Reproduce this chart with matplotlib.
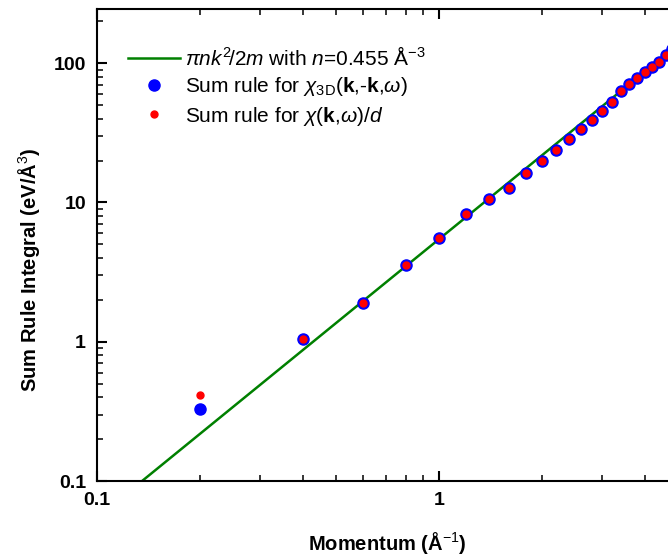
import matplotlib
matplotlib.use("Agg")
import matplotlib.pyplot as plt
from matplotlib.ticker import LogLocator, FixedLocator, FixedFormatter, NullFormatter

# values
momentum = [0.2, 0.4, 0.6, 0.8, 1.0, 1.2, 1.4, 1.6, 1.8, 2.0, 2.2, 2.4,
            2.6, 2.8, 3.0, 3.2, 3.4, 3.6, 3.8, 4.0, 4.2, 4.4, 4.6, 4.8]
sum_rule_3d = [0.33, 1.05, 1.91, 3.53, 5.55, 8.33, 10.6, 12.7, 16.4, 19.9, 23.7, 28.5,
               33.7, 39.3, 45.2, 52.7, 62.9, 71.0, 78.4, 86.1, 93.5, 102, 114, 126]
sum_rule_2d = [0.415, 1.05, 1.91, 3.53, 5.55, 8.33, 10.6, 12.7, 16.4, 19.9, 23.7, 28.5,
               33.7, 39.3, 45.2, 52.7, 62.9, 71.0, 78.4, 86.1, 93.5, 102, 114, 126]
line_k = [0.1, 5.0]
line_y = [0.0545, 136.2]

y_ticks = [0.1, 1, 10, 100]
y_ticklabels = ["0.1", "1", "10", "100"]
x_ticks = [0.1, 1]
x_ticklabels = ["0.1", "1"]

plt.rcParams['font.family'] = ['Liberation Sans', 'DejaVu Sans']
plt.rcParams['mathtext.fontset'] = 'custom'
plt.rcParams['mathtext.rm'] = 'Liberation Sans'
plt.rcParams['mathtext.it'] = 'Liberation Sans:italic'
plt.rcParams['mathtext.bf'] = 'Liberation Sans:bold'

fig = plt.figure(figsize=(6.68, 5.59), dpi=100)
# the right part of the original axes is cut off by the image edge
ax = fig.add_axes([97 / 668, 78 / 559, 581 / 668, 472 / 559])

ax.plot(line_k, line_y, color='green', lw=1.8,
        label=r"$\pi nk^2\!/2m$ with $n$=$\mathit{0.455}$ Å$^{-3}$")
ax.plot(momentum, sum_rule_3d, 'o', color='blue', ms=8, mec='blue', ls='none',
        label=r"Sum rule for $\chi_{\mathrm{3D}}$($\mathbf{k}$,-$\mathbf{k}$,$\omega$)")
ax.plot(momentum, sum_rule_2d, 'o', color='red', ms=5, mec='red', ls='none',
        label=r"Sum rule for $\chi$($\mathbf{k}$,$\omega$)/$d$")

ax.set_xscale('log')
ax.set_yscale('log')
ax.set_xlim(0.1, 5)
ax.set_ylim(0.1, 245)

ax.xaxis.set_major_locator(FixedLocator(x_ticks))
ax.xaxis.set_major_formatter(FixedFormatter(x_ticklabels))
ax.yaxis.set_major_locator(FixedLocator(y_ticks))
ax.yaxis.set_major_formatter(FixedFormatter(y_ticklabels))
ax.xaxis.set_minor_locator(LogLocator(base=10, subs=range(2, 10)))
ax.yaxis.set_minor_locator(LogLocator(base=10, subs=range(2, 10)))
ax.xaxis.set_minor_formatter(NullFormatter())
ax.yaxis.set_minor_formatter(NullFormatter())

ax.tick_params(which='both', direction='in', top=True, right=True)
ax.tick_params(which='major', length=7, width=1.5, pad=8, labelsize=14)
ax.tick_params(which='minor', length=4.5, width=1.1)
for lab in ax.get_xticklabels() + ax.get_yticklabels():
    lab.set_fontweight('bold')
for sp in ax.spines.values():
    sp.set_linewidth(1.5)

ax.set_xlabel(r"Momentum (Å$^{-1}$)", fontsize=14.5, fontweight='bold')
ax.set_ylabel(r"Sum Rule Integral (eV/Å$^{3}$)", fontsize=14.5, fontweight='bold')
ax.xaxis.set_label_coords(0.5, -0.103)
ax.yaxis.set_label_coords(-0.095, 0.447)

ax.legend(loc='upper left', bbox_to_anchor=(128 / 668, 1 - 46 / 559),
          bbox_transform=fig.transFigure, frameon=False, fontsize=15,
          handlelength=2.5, handletextpad=0.25, labelspacing=0.3,
          numpoints=1, borderpad=0, borderaxespad=0)

fig.savefig("out.png", dpi=100)
